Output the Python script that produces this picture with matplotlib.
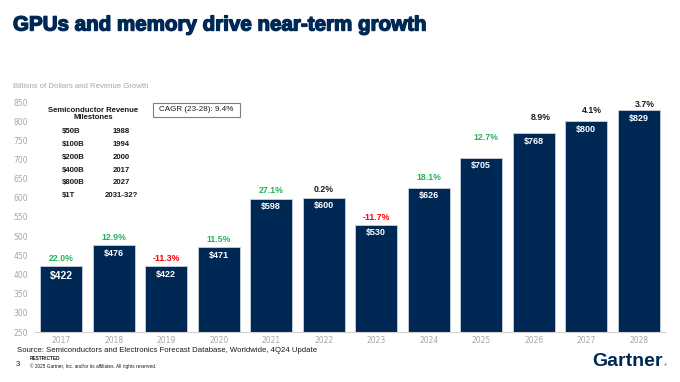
import matplotlib
matplotlib.use("Agg")
import matplotlib.pyplot as plt
import matplotlib.patheffects as pe

years = ["2017", "2018", "2019", "2020", "2021", "2022", "2023", "2024", "2025", "2026", "2027", "2028"]
revenue = [422, 476, 422, 471, 598, 600, 530, 626, 705, 768, 800, 829]
growth = ["22.0%", "12.9%", "-11.3%", "11.5%", "27.1%", "0.2%", "-11.7%", "18.1%", "12.7%", "8.9%", "4.1%", "3.7%"]
growth_kind = ["up", "up", "down", "up", "up", "flat", "down", "up", "up", "flat", "flat", "flat"]
milestone_amounts = ["$50B", "$100B", "$200B", "$400B", "$800B", "$1T"]
milestone_years = ["1988", "1994", "2000", "2017", "2027", "2031-32?"]
yticks = list(range(250, 851, 50))

# label offsets (pixels) above bar tops for growth labels, and x shifts
g_dy = [8, 8, 8, 8, 8.5, 8.5, 7.5, 10, 20, 16, 11, 6]
g_dx = [0, 0, 0, 0, 0, 0, 0, 0, 5, 7, 6, 6]

NAVY = "#002855"
GREEN = "#21B35A"
RED = "#FF0000"
GRAY = "#A6A6A6"
colors = {"up": GREEN, "down": RED, "flat": "#1A1A1A"}

W, H = 680, 382
fig = plt.figure(figsize=(W / 100, H / 100), dpi=100)
ax = fig.add_axes([35 / W, 1 - 332 / H, 630 / W, 230 / H])

x = list(range(len(years)))
ax.bar(x, revenue, width=0.8, color=NAVY, edgecolor="#C9D1DC", linewidth=0.6, bottom=0)
ax.set_ylim(250, 850)
ax.set_xlim(-0.5, len(years) - 0.5)
ax.set_yticks(yticks)
ax.set_xticks(x)
ax.set_xticklabels(years)
ax.tick_params(axis="both", length=0, labelsize=5.5, labelcolor=GRAY)
ax.tick_params(axis="y", pad=5)
ax.tick_params(axis="x", pad=3)
for s in ["top", "right", "left"]:
    ax.spines[s].set_visible(False)
ax.spines["bottom"].set_color("#D0D0D0")
ax.spines["bottom"].set_linewidth(0.8)

for i, (v, g, k) in enumerate(zip(revenue, growth, growth_kind)):
    fs = 7.5 if i == 0 else 6.5
    ax.annotate(f"${v}", (i, v), xytext=(0, -10 if i == 0 else -8), textcoords="offset pixels",
                ha="center", va="center", color="white", fontsize=fs, fontweight="bold",
                family="Liberation Sans")
    ax.annotate(g, (i, v), xytext=(g_dx[i], g_dy[i]), textcoords="offset pixels",
                ha="center", va="center", color=colors[k], fontsize=6.3, fontweight="bold",
                family="Liberation Sans")

# Title
fig.text(13 / W, 1 - 25 / H, "GPUs and memory drive near-term growth", fontsize=14.8,
         fontweight="bold", color=NAVY, family="Liberation Sans", va="center", ha="left",
         path_effects=[pe.withStroke(linewidth=1.0, foreground=NAVY)])
fig.text(13 / W, 1 - 86 / H, "Billions of Dollars and Revenue Growth", fontsize=5.6,
         color=GRAY, family="Liberation Sans", va="center", ha="left")

# Milestones table
fig.text(93 / W, 1 - 114 / H, "Semiconductor Revenue\nMilestones", fontsize=5.6,
         fontweight="bold", color="#1A1A1A", family="Liberation Sans", va="center",
         ha="center", linespacing=1.1)
for j, (a, yv) in enumerate(zip(milestone_amounts, milestone_years)):
    yy = 131.7 + j * 12.8
    fig.text(62 / W, 1 - yy / H, a, fontsize=5.6, fontweight="bold", color="#1A1A1A",
             family="Liberation Sans", va="center", ha="left")
    fig.text(121 / W, 1 - yy / H, yv, fontsize=5.6, fontweight="bold", color="#1A1A1A",
             family="Liberation Sans", va="center", ha="center")

# CAGR box
fig.patches.append(plt.Rectangle((153 / W, 1 - 116.7 / H), 87 / W, 14 / H,
                                 transform=fig.transFigure, fill=False,
                                 edgecolor="#7F7F7F", linewidth=0.8))
fig.text(196.5 / W, 1 - 109.7 / H, "CAGR (23-28): 9.4%", fontsize=5.8, color="#1A1A1A",
         family="Liberation Sans", va="center", ha="center")

# Footer
fig.text(17 / W, 1 - 350 / H, "Source: Semiconductors and Electronics Forecast Database, Worldwide, 4Q24 Update",
         fontsize=5.6, color="#1A1A1A", family="Liberation Sans", va="center", ha="left")
fig.text(30 / W, 1 - 358.5 / H, "RESTRICTED", fontsize=3.4, fontweight="bold", color="#1A1A1A",
         family="Liberation Sans", va="center", ha="left")
fig.text(16 / W, 1 - 365 / H, "3", fontsize=5.6, color="#1A1A1A",
         family="Liberation Sans", va="center", ha="left")
fig.text(30 / W, 1 - 366 / H, "\u00a9 2025 Gartner, Inc. and/or its affiliates. All rights reserved.",
         fontsize=3.4, color="#1A1A1A", family="Liberation Sans", va="center", ha="left")
fig.text(663 / W, 1 - 361 / H, "Gartner", fontsize=14, fontweight="bold", color=NAVY,
         family="Liberation Sans", va="center", ha="right")
fig.text(663.5 / W, 1 - 365 / H, "\u00ae", fontsize=3, color=NAVY,
         family="Liberation Sans", va="center", ha="left")

fig.savefig("out.png", dpi=100)
